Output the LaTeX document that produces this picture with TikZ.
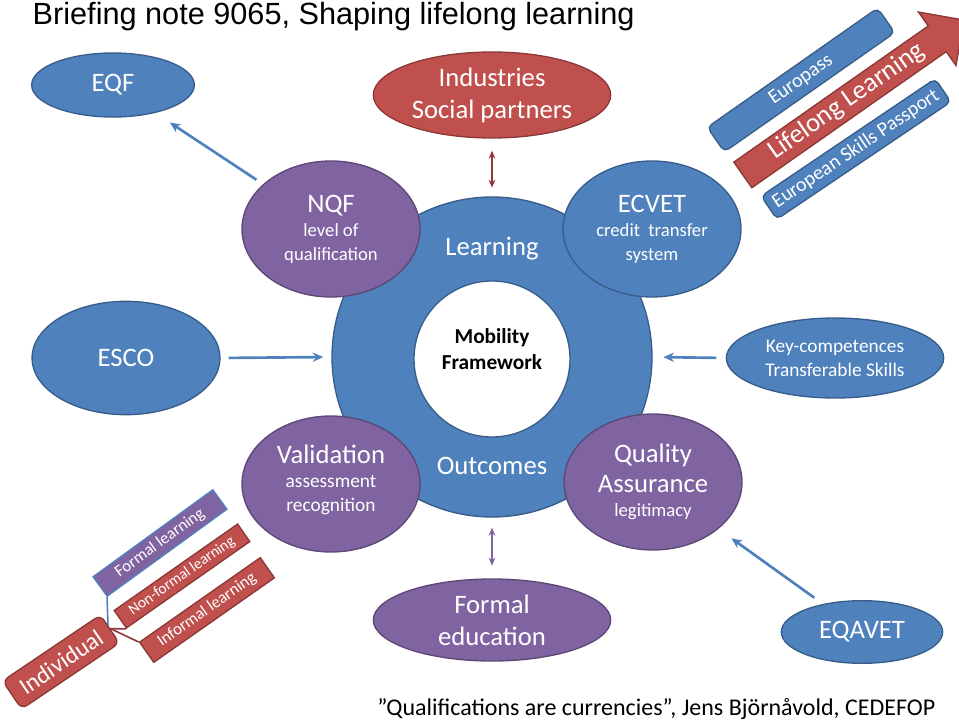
\documentclass[tikz,border=0pt]{standalone}
\usepackage{fontspec}
\setmainfont{Carlito}
\newfontfamily\titlefont{Liberation Sans}
\usetikzlibrary{arrows.meta, positioning, shapes.geometric, shapes.arrows, calc}

\definecolor{ofBlue}{HTML}{4F81BD}
\definecolor{ofBlueLine}{HTML}{385D8A}
\definecolor{ofPurple}{HTML}{8064A2}
\definecolor{ofPurpleLine}{HTML}{5C4776}
\definecolor{ofRed}{HTML}{C0504D}
\definecolor{ofRedLine}{HTML}{8C3836}
\definecolor{ofRedDark}{HTML}{953735}

\newcommand{\fsz}[2]{\fontsize{#1}{#2}\selectfont}

\begin{document}
\begin{tikzpicture}[
    x=0.75pt, y=-0.75pt,
    bubble/.style={ellipse, line width=1pt, text=white, align=center, inner sep=0pt},
    bluebub/.style={bubble, draw=ofBlueLine, fill=ofBlue},
    purplebub/.style={bubble, draw=ofPurpleLine, fill=ofPurple},
    redbub/.style={bubble, draw=ofRedLine, fill=ofRed},
    ringbub/.style={bubble, minimum width=133.5pt, minimum height=102pt, font=\fsz{14}{18}},
    tag/.style={rectangle, line width=1pt, text=white, inner sep=0pt},
    link/.style={draw=ofBlue, line width=2pt, -{Stealth[length=8pt, width=7pt]}},
    twoway/.style={line width=1.6pt, {Stealth[length=6pt, width=5pt]}-{Stealth[length=6pt, width=5pt]}}
]
    \useasboundingbox (0,0) rectangle (959,723);

    \node[anchor=base west, font=\titlefont\fsz{23}{27}] (title) at (28,25) {Briefing note 9065, Shaping lifelong learning};

    % central ring
    \node[circle, draw=ofBlueLine, fill=ofBlue, line width=1pt, minimum size=240pt] (ring) at (492,357) {};
    \node[circle, draw=ofBlueLine, fill=white, line width=1pt, minimum size=117pt] (hub) at (492,359) {};
    \node[align=center, font=\bfseries\fsz{16}{20}] (mobility) at (492,349) {Mobility\\Framework};
    \node[text=white, font=\fsz{20}{24}] (learn) at (492,249) {Learning};
    \node[text=white, font=\fsz{20}{24}] (outc) at (492,466) {Outcomes};

    % bubbles on the ring
    \node[purplebub, ringbub] (nqf) at (331,229) {\fsz{20}{24}NQF\\level of\\qualification};
    \node[bluebub, ringbub] (ecvet) at (652,229) {\fsz{20}{24}ECVET\\credit\ \ transfer\\system};
    \node[purplebub, ringbub] (valid) at (331,484) {};
    \node[align=center, text=white, font=\fsz{14.5}{18}] (validtxt) at (331,480) {\fsz{20}{24}Validation\\assessment\\recognition};
    \node[purplebub, ringbub] (qual) at (653,482) {\fsz{20}{24}Quality\\[5pt]\fsz{20}{24}Assurance\\legitimacy};

    % outer bubbles
    \node[bluebub, minimum width=122pt, minimum height=48pt, font=\fsz{20}{24}] (eqf) at (113,85) {EQF};
    \node[redbub, minimum width=178pt, minimum height=64.5pt, font=\fsz{20}{24}] (indus) at (492,95) {Industries\\Social partners};
    \node[bluebub, minimum width=141pt, minimum height=85pt, font=\fsz{20}{24}] (esco) at (126,358) {ESCO};
    \node[bluebub, minimum width=163pt, minimum height=60pt, font=\fsz{14.5}{18}] (keyc) at (835,358) {Key-competences\\Transferable Skills};
    \node[purplebub, minimum width=178pt, minimum height=61.5pt, font=\fsz{20}{24}] (fedu) at (492,620) {Formal\\education};
    \node[bluebub, minimum width=121pt, minimum height=47pt, font=\fsz{20}{24}] (eqavet) at (862,632) {EQAVET};

    % arrows
    \draw[link, shorten <=6pt, shorten >=13pt] (nqf) -- (eqf);
    \draw[link, shorten <=6pt, shorten >=6pt] (esco.east) -- (ring.west);
    \draw[link, shorten <=7pt, shorten >=8pt] (keyc.west) -- (ring.east);
    \draw[link, shorten <=8pt, shorten >=12pt] (eqavet) -- (qual);
    \draw[twoway, draw=ofRedDark, fill=ofRedDark, shorten <=9pt, shorten >=6.5pt] (indus.south) -- (ring.north);
    \draw[twoway, draw=ofPurple, fill=ofPurple, shorten <=7.5pt, shorten >=9.5pt] (ring.south) -- (fedu.north);

    % top right
    \node[tag, fill=ofBlue, draw=ofBlueLine, rounded corners=4pt, rotate=35, minimum width=156pt, minimum height=22.5pt, font=\fsz{15}{18}] (europass) at (801,80) {Europass};
    \node[single arrow, fill=ofRed, draw=ofRedLine, line width=1pt, rotate=35, minimum height=202.5pt, single arrow head extend=12.75pt, inner xsep=0pt, inner ysep=2.5pt, text height=13.5pt, text depth=4pt, text=white, font=\fsz{20}{22}] (lifelong) at (847,102) {Lifelong Learning};
    \node[tag, fill=ofBlue, draw=ofBlueLine, rounded corners=4pt, rotate=34, minimum width=157.5pt, minimum height=21pt, font=\fsz{15}{18}] (esp) at (856,149) {European Skills Passport};

    % bottom left
    \node[tag, fill=ofRed, draw=ofRedLine, rounded corners=5pt, rotate=34, minimum width=88.5pt, minimum height=25.5pt, font=\fsz{18}{21}] (indiv) at (61,662) {Individual};
    \node[tag, fill=ofPurple, draw=ofBlue, rotate=36, minimum width=111pt, minimum height=18pt, font=\fsz{12.5}{15}] (formal) at (160,543) {Formal learning};
    \node[tag, fill=ofRed, draw=ofRedLine, rotate=35, minimum width=113pt, minimum height=16pt, font=\fsz{11.5}{14}] (nonformal) at (182,576) {Non-formal learning};
    \node[tag, fill=ofRed, draw=ofRedLine, rotate=35, minimum width=110.5pt, minimum height=18.5pt, font=\fsz{12.5}{15}] (informal) at (207,610) {Informal learning};
    \draw[ofBlue, line width=1.2pt] ($(indiv.east)!0.25!(indiv.north east)$) -- (formal.south west);
    \draw[ofRedLine, line width=1.2pt] (indiv.east) -- (nonformal.south west);
    \draw[ofRedLine, line width=1.2pt] (indiv.east) -- (informal.north west);

    \node[anchor=base east, font=\fsz{18}{22}] (quote) at (940,715) {”Qualifications are currencies”, Jens Björnåvold, CEDEFOP};
\end{tikzpicture}
\end{document}
